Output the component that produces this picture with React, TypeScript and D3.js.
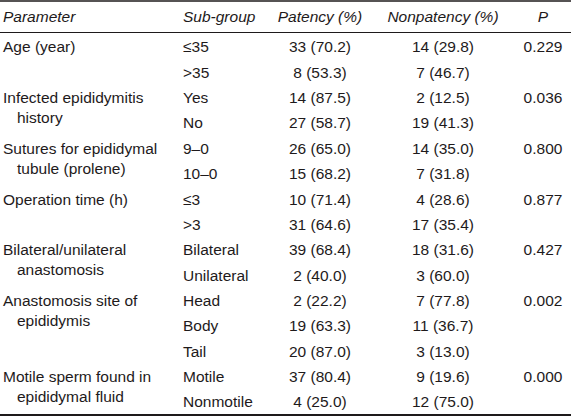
import React from "react";
import * as d3 from "d3";

const headers = ["Parameter", "Sub-group", "Patency (%)", "Nonpatency (%)", "P"];
const paramLines = [
  ["Age (year)"],
  ["Infected epididymitis", "history"],
  ["Sutures for epididymal", "tubule (prolene)"],
  ["Operation time (h)"],
  ["Bilateral/unilateral", "anastomosis"],
  ["Anastomosis site of", "epididymis"],
  ["Motile sperm found in", "epididymal fluid"],
];
const groupSizes = [2, 2, 2, 2, 2, 3, 2];
const pValues = ["0.229", "0.036", "0.800", "0.877", "0.427", "0.002", "0.000"];
const subGroups = ["≤35", ">35", "Yes", "No", "9–0", "10–0", "≤3", ">3", "Bilateral", "Unilateral", "Head", "Body", "Tail", "Motile", "Nonmotile"];
const patencyN = [33, 8, 14, 27, 26, 15, 10, 31, 39, 2, 2, 19, 20, 37, 4];
const patencyPct = [70.2, 53.3, 87.5, 58.7, 65.0, 68.2, 71.4, 64.6, 68.4, 40.0, 22.2, 63.3, 87.0, 80.4, 25.0];
const nonN = [14, 7, 2, 19, 14, 7, 4, 17, 18, 3, 7, 11, 3, 9, 12];
const nonPct = [29.8, 46.7, 12.5, 41.3, 35.0, 31.8, 28.6, 35.4, 31.6, 60.0, 77.8, 36.7, 13.0, 19.6, 75.0];

const W = 571;
const H = 416;
const color = "#1e1a1b";
const font = "'Liberation Sans', Arial, sans-serif";
const fs = 15.5;
const lineH = 20;

export default function App() {
  const y = d3.scalePoint<number>().domain(d3.range(subGroups.length)).range([47, 402]);
  const fmt = d3.format(".1f");
  const colX = { param: 3, sub: 183, pat: 320, non: 443, p: 543 };

  const starts: number[] = [];
  let acc = 0;
  groupSizes.forEach((s) => {
    starts.push(acc);
    acc += s;
  });

  const txt = (x: number, yy: number, s: string, anchor: string, italic = false, key?: string) => (
    <text
      key={key}
      x={x}
      y={yy}
      dy="0.35em"
      textAnchor={anchor}
      fontStyle={italic ? "italic" : "normal"}
      fontFamily={font}
      fontSize={fs}
      fill={color}
    >
      {s}
    </text>
  );

  return (
    <svg
      width={W}
      height={H}
      style={{ position: "absolute", left: 0, top: 0, display: "block", background: "#fff" }}
    >
      <rect width={W} height={H} fill="#fff" />
      <line x1={0} x2={W} y1={1} y2={1} stroke={color} strokeWidth={1.6} />
      <line x1={0} x2={W} y1={32.5} y2={32.5} stroke={color} strokeWidth={1} />
      <line x1={0} x2={W} y1={415} y2={415} stroke={color} strokeWidth={2} />
      {txt(colX.param, 17, headers[0], "start", true, "h0")}
      {txt(colX.sub, 17, headers[1], "start", true, "h1")}
      {txt(colX.pat, 17, headers[2], "middle", true, "h2")}
      {txt(colX.non, 17, headers[3], "middle", true, "h3")}
      {txt(colX.p, 17, headers[4], "middle", true, "h4")}
      {paramLines.map((lines, gi) =>
        lines.map((l, li) =>
          txt(
            li === 0 ? colX.param : colX.param + 14,
            y(starts[gi])! + li * lineH,
            l,
            "start",
            false,
            `p${gi}-${li}`
          )
        )
      )}
      {pValues.map((p, gi) => txt(colX.p, y(starts[gi])!, p, "middle", false, `pv${gi}`))}
      {subGroups.map((s, i) => (
        <g key={`r${i}`}>
          {txt(colX.sub, y(i)!, s, "start")}
          {txt(colX.pat, y(i)!, `${patencyN[i]} (${fmt(patencyPct[i])})`, "middle")}
          {txt(colX.non, y(i)!, `${nonN[i]} (${fmt(nonPct[i])})`, "middle")}
        </g>
      ))}
    </svg>
  );
}
